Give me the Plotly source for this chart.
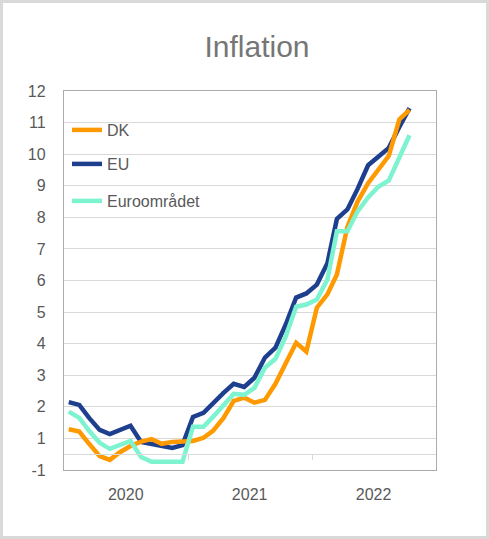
import pandas as pd
import plotly.graph_objects as go

# ---- data (in the chart's axis units) ----
months = pd.date_range("2020-01-01", periods=34, freq="MS") + pd.Timedelta(days=14)

dk = [1.29, 1.22, 0.83, 0.44, 0.32, 0.57, 0.76, 0.90, 0.98, 0.83, 0.89, 0.92,
      0.92, 1.02, 1.24, 1.65, 2.19, 2.29, 2.13, 2.22, 2.73, 3.37, 4.03, 3.75,
      5.14, 5.56, 6.19, 7.70, 8.50, 9.08, 9.53, 9.95, 11.10, 11.40]
eu = [2.15, 2.06, 1.65, 1.27, 1.14, 1.27, 1.40, 0.89, 0.83, 0.76, 0.70, 0.79,
      1.68, 1.81, 2.13, 2.44, 2.73, 2.63, 2.92, 3.56, 3.87, 4.60, 5.46, 5.59,
      5.87, 6.55, 7.95, 8.25, 8.90, 9.65, 9.92, 10.20, 10.86, 11.46]
euro = [1.85, 1.65, 1.24, 0.86, 0.67, 0.79, 0.92, 0.41, 0.26, 0.26, 0.26, 0.26,
        1.37, 1.37, 1.68, 2.06, 2.41, 2.38, 2.60, 3.24, 3.52, 4.22, 5.17, 5.24,
        5.40, 6.03, 7.56, 7.56, 8.19, 8.63, 8.97, 9.17, 9.94, 10.60]

series_names = ["DK", "EU", "Euroområdet"]
y_tickvals = list(range(0, 13))
y_ticktext = ["-1"] + [str(v) for v in range(1, 13)]
year_labels = ["2020", "2021", "2022"]
year_centers = ["2020-07-01", "2021-07-01", "2022-07-01"]
year_bounds = ["2021-01-01", "2022-01-01"]

C_DK = "#FF9900"
C_EU = "#1E3F8E"
C_EURO = "#7DF3CF"
TXT = "#595959"
GRID = "#D9D9D9"

fig = go.Figure()
fig.add_trace(go.Scatter(x=months, y=eu, name=series_names[1], mode="lines",
                         line=dict(color=C_EU, width=4.5), legend="legend2"))
fig.add_trace(go.Scatter(x=months, y=dk, name=series_names[0], mode="lines",
                         line=dict(color=C_DK, width=4.5), legend="legend"))
fig.add_trace(go.Scatter(x=months, y=euro, name=series_names[2], mode="lines",
                         line=dict(color=C_EURO, width=4.5), legend="legend3"))
# helper trace so the secondary x axis (zero line with tick marks) is drawn
fig.add_trace(go.Scatter(x=[months[0]], y=[None], xaxis="x2", showlegend=False,
                         hoverinfo="skip", mode="lines"))

W, H = 489, 539
L, R, T, B = 64, 53, 91, 69
pw, ph = W - L - R, H - T - B

def px_x(p):
    return (p - L) / pw

def px_y(p):
    return (H - B - p) / ph

leg_common = dict(bgcolor="rgba(0,0,0,0)", font=dict(size=16, color=TXT,
                  family="Liberation Sans, Arial, sans-serif"),
                  xanchor="left", yanchor="middle", x=px_x(67))

fig.update_layout(
    width=W, height=H,
    margin=dict(l=L, r=R, t=T, b=B),
    paper_bgcolor="#D9D9D9",
    plot_bgcolor="white",
    font=dict(family="Liberation Sans, Arial, sans-serif", color=TXT, size=16),
    title=dict(text="Inflation", x=257 / W, xref="container", xanchor="center",
               y=1 - 46 / H, yref="container", yanchor="middle",
               font=dict(family="Liberation Sans, Arial, sans-serif",
                         size=30, color="#767676")),
    legend=dict(y=px_y(130), **leg_common),
    legend2=dict(y=px_y(164), **leg_common),
    legend3=dict(y=px_y(201), **leg_common),
    xaxis=dict(type="date", range=["2020-01-01", "2023-01-01"],
               tickvals=year_centers, ticktext=year_labels, ticks="",
               showgrid=False, showline=True, mirror=True, linecolor="#ABABAB",
               linewidth=1.3, ticklabelstandoff=10, zeroline=False,
               tickfont=dict(size=16, color=TXT)),
    xaxis2=dict(type="date", overlaying="x", matches="x", anchor="free",
                position=0.5 / 12, side="bottom", showline=True, linecolor=GRID,
                linewidth=1, tickvals=year_bounds, ticks="outside", ticklen=5,
                tickcolor=GRID, tickwidth=1, showticklabels=False, showgrid=False,
                zeroline=False),
    yaxis=dict(range=[0, 12], tickvals=y_tickvals, ticktext=y_ticktext,
               showgrid=True, gridcolor=GRID, gridwidth=1, zeroline=False,
               showline=True, mirror=True, linecolor="#ABABAB", linewidth=1.3,
               ticks="", ticklabelstandoff=14, tickfont=dict(size=16, color=TXT)),
    shapes=[dict(type="rect", xref="paper", yref="paper", layer="below",
                 x0=px_x(3), x1=px_x(486), y0=px_y(536), y1=px_y(3),
                 fillcolor="white", line=dict(width=0))],
)

fig.write_html("out.html", config={"displayModeBar": False},
               post_script="document.body.style.margin='0';document.body.style.overflow='hidden';")
